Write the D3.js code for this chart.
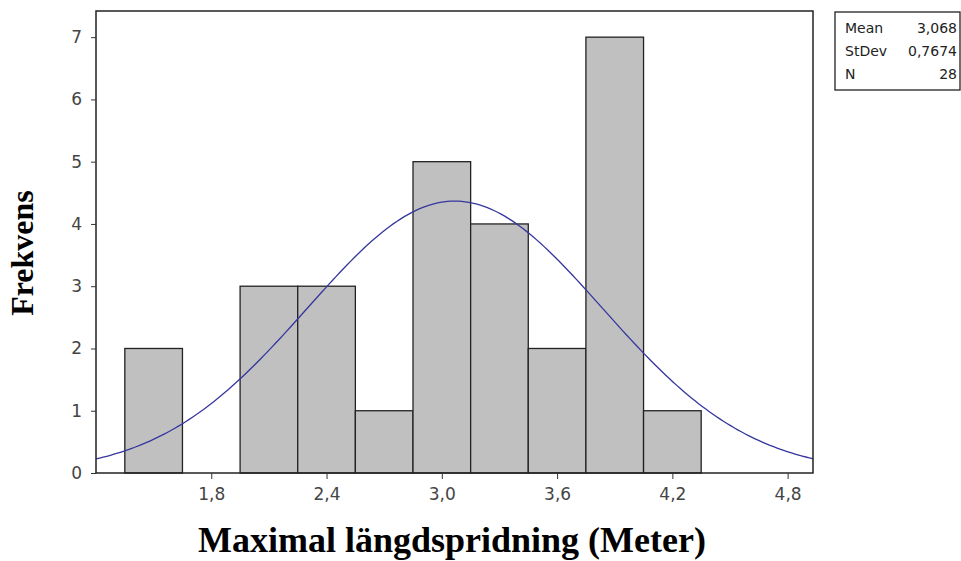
<!DOCTYPE html>
<html>
<head>
<meta charset="utf-8">
<script src="https://cdn.jsdelivr.net/npm/d3@7"></script>
<style>
  html, body { margin: 0; padding: 0; background: #fff; }
  svg { display: block; }
</style>
</head>
<body>
<svg id="chart" width="961" height="561"></svg>
<script>
// histogram bins (bin centres, width 0.3) and counts
const binCenters = [1.5, 1.8, 2.1, 2.4, 2.7, 3.0, 3.3, 3.6, 3.9, 4.2];
const binCounts = [2, 0, 3, 3, 1, 5, 4, 2, 7, 1];
const binWidth = 0.3;

const xTicks = [1.8, 2.4, 3.0, 3.6, 4.2, 4.8];
const yTicks = [0, 1, 2, 3, 4, 5, 6, 7];

// summary shown in the box, used for the fitted normal curve
const statLabels = ['Mean', 'StDev', 'N'];
const statValues = ['3,068', '0,7674', '28'];
const mean = 3.068, stdev = 0.7674, n = 28;

const margin = { left: 96, top: 11, right: 148, bottom: 88 };
const W = 961, H = 561;
const plotW = W - margin.left - margin.right;
const plotH = H - margin.top - margin.bottom;

const svg = d3.select('#chart');
const g = svg.append('g').attr('transform', `translate(${margin.left},${margin.top})`);

const x = d3.scaleLinear().domain([1.2, 4.932]).range([0, plotW]);
const y = d3.scaleLinear().domain([0, 7.42]).range([plotH, 0]);

const fmt = (d) => d3.format('.1f')(d).replace('.', ',');

// bars
g.selectAll('rect.bar')
  .data(binCenters.map((c, i) => ({ c, v: binCounts[i] })).filter((d) => d.v > 0))
  .join('rect')
  .attr('class', 'bar')
  .attr('x', (d) => x(d.c - binWidth / 2))
  .attr('width', (d) => x(d.c + binWidth / 2) - x(d.c - binWidth / 2))
  .attr('y', (d) => y(d.v))
  .attr('height', (d) => y(0) - y(d.v))
  .attr('fill', '#c0c0c0')
  .attr('stroke', '#222')
  .attr('stroke-width', 1.3);

// fitted normal curve scaled to counts
const xs = d3.range(0, 201).map((i) => 1.2 + (4.932 - 1.2) * i / 200);
const dens = (v) => n * binWidth * Math.exp(-0.5 * ((v - mean) / stdev) ** 2) / (stdev * Math.sqrt(2 * Math.PI));
g.append('path')
  .datum(xs)
  .attr('fill', 'none')
  .attr('stroke', '#36369e')
  .attr('stroke-width', 1.3)
  .attr('d', d3.line().x((d) => x(d)).y((d) => y(dens(d))));

// frame
g.append('rect')
  .attr('width', plotW).attr('height', plotH)
  .attr('fill', 'none').attr('stroke', '#222').attr('stroke-width', 1.5);

// axes
const xAxis = g.append('g')
  .attr('transform', `translate(0,${plotH})`)
  .call(d3.axisBottom(x).tickValues(xTicks).tickFormat(fmt).tickSize(6).tickPadding(9));
const yAxis = g.append('g')
  .call(d3.axisLeft(y).tickValues(yTicks).tickFormat(d3.format('d')).tickSize(5).tickPadding(9));
[xAxis, yAxis].forEach((a) => {
  a.select('.domain').remove();
  a.selectAll('line').attr('stroke', '#333');
  a.selectAll('text')
    .attr('font-family', 'Verdana, "DejaVu Sans", sans-serif')
    .attr('font-size', 17)
    .attr('fill', '#444');
});

// axis titles
svg.append('text')
  .attr('x', 452).attr('y', 552)
  .attr('text-anchor', 'middle')
  .attr('font-family', '"Liberation Serif", "Times New Roman", serif')
  .attr('font-weight', 'bold')
  .attr('font-size', 36)
  .text('Maximal längdspridning (Meter)');

svg.append('text')
  .attr('transform', 'translate(33,253) rotate(-90)')
  .attr('text-anchor', 'middle')
  .attr('font-family', '"Liberation Serif", "Times New Roman", serif')
  .attr('font-weight', 'bold')
  .attr('font-size', 32)
  .text('Frekvens');

// stats box
const box = svg.append('g').attr('transform', 'translate(835,12)');
box.append('rect')
  .attr('width', 125).attr('height', 78)
  .attr('fill', '#fff').attr('stroke', '#222').attr('stroke-width', 1.3);
statLabels.forEach((lab, i) => {
  box.append('text')
    .attr('x', 10).attr('y', 21 + i * 23)
    .attr('font-family', 'Verdana, "DejaVu Sans", sans-serif')
    .attr('font-size', 14).attr('fill', '#222')
    .text(lab);
  box.append('text')
    .attr('x', 122).attr('y', 21 + i * 23)
    .attr('text-anchor', 'end')
    .attr('font-family', 'Verdana, "DejaVu Sans", sans-serif')
    .attr('font-size', 14).attr('fill', '#222')
    .text(statValues[i]);
});
</script>
</body>
</html>
